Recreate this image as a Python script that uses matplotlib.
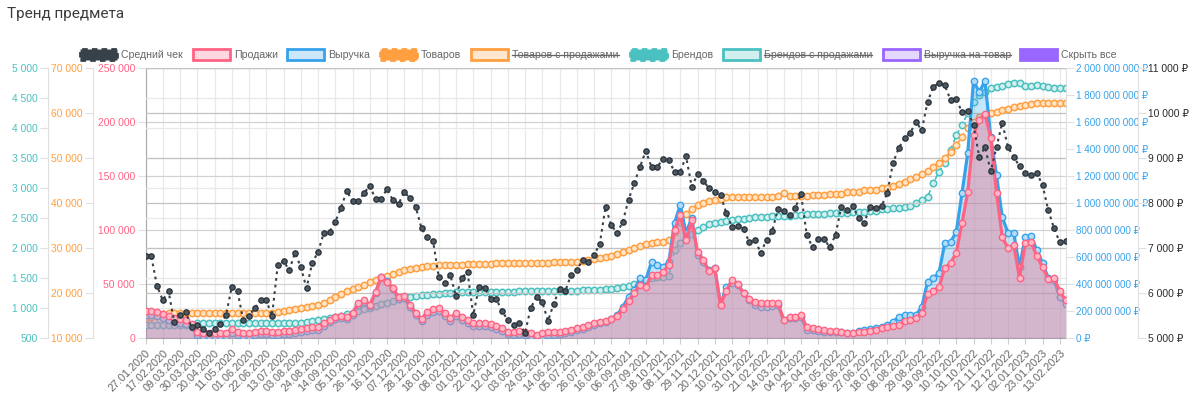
import numpy as np
import pandas as pd
import matplotlib
matplotlib.use('Agg')
import matplotlib.pyplot as plt
from matplotlib.ticker import FuncFormatter, MultipleLocator
from matplotlib.patches import Rectangle
from matplotlib.lines import Line2D
from matplotlib.colors import to_rgba

plt.rcParams['font.family'] = ['Liberation Sans', 'DejaVu Sans']

# weekly points, 27.01.2020 .. 20.02.2023
dates = pd.date_range('2020-01-27', periods=161, freq='7D')

avg_check = [6820, 6820, 6160, 5840, 6040, 5360, 5510, 5580, 5240, 5290,
             5200, 5110, 5200, 5310, 5510, 6130, 6040, 5400, 5490, 5670,
             5840, 5840, 5490, 6620, 6710, 6510, 6890, 6580, 6110, 6670,
             6910, 7330, 7360, 7580, 7890, 8270, 8040, 8040, 8220, 8380,
             8090, 8090, 8310, 8070, 7980, 8240, 8110, 7910, 7440, 7240,
             7160, 6360, 6220, 6400, 5930, 6330, 6470, 5510, 6130, 6110,
             5870, 5870, 5600, 5400, 5290, 5330, 5110, 5670, 5910, 5800,
             5380, 5760, 6090, 6040, 6400, 6510, 6730, 6690, 6840, 7090,
             7910, 7510, 7330, 7580, 8070, 8440, 8800, 9160, 8800, 8800,
             8980, 8960, 8690, 8690, 9040, 8360, 8640, 8490, 8330, 8240,
             8180, 7780, 7470, 7490, 7420, 7130, 7180, 6890, 7180, 7380,
             7870, 7820, 7730, 7890, 8200, 7290, 7020, 7200, 7200, 7020,
             7290, 7910, 7840, 7930, 7670, 7560, 7910, 7890, 7930, 8220,
             8890, 9220, 9440, 9560, 9800, 9620, 10240, 10580, 10670, 10620,
             10290, 10310, 10020, 10040, 9730, 9020, 9240, 8710, 9240, 9780,
             9240, 9020, 8820, 8670, 8620, 8670, 8400, 7840, 7440, 7130,
             7160]

sales = [25000, 25000, 24100, 22200, 20400, 18500, 17600, 16700, 13000, 5600,
         4600, 4600, 4600, 4600, 4600, 8300, 5600, 4600, 4600, 5600,
         6500, 6500, 5600, 5600, 6500, 6500, 7400, 8300, 9300, 10200,
         10200, 13900, 16700, 19400, 20400, 19400, 23100, 32400, 35200, 30600,
         42600, 56500, 51900, 46300, 38000, 38900, 30600, 23100, 17600, 24100,
         26900, 27800, 23100, 18500, 23100, 19400, 16700, 13900, 13900, 13900,
         13000, 11100, 9300, 5600, 5600, 6500, 5600, 4600, 2800, 4600,
         5600, 5600, 5600, 6500, 7400, 9300, 10200, 12000, 13900, 14800,
         15700, 17600, 20400, 26900, 34300, 41700, 49100, 47200, 58300, 58300,
         61100, 67600, 100000, 113900, 90700, 109300, 79600, 72200, 62000, 64800,
         30600, 43500, 53700, 50000, 41700, 36100, 33300, 32400, 32400, 32400,
         32400, 16700, 19400, 19400, 21300, 10200, 9300, 8300, 7400, 6500,
         6500, 5600, 4600, 4600, 5600, 5600, 6500, 7400, 9300, 10200,
         11100, 12000, 15700, 16700, 18500, 23100, 40700, 43500, 47200, 64800,
         69400, 78700, 106500, 135200, 188000, 201900, 207400, 185200, 134300, 93500,
         83300, 86100, 55600, 88000, 88900, 75900, 65700, 54600, 55600, 43500,
         35200]

# millions of rubles
revenue_mln = [170, 170, 163, 148, 133, 119, 111, 104, 81, 22,
               15, 15, 15, 15, 15, 37, 22, 15, 15, 22,
               30, 30, 22, 22, 30, 30, 37, 44, 52, 59,
               59, 89, 119, 141, 148, 141, 170, 244, 267, 237,
               333, 452, 422, 363, 289, 296, 230, 170, 126, 170,
               193, 200, 163, 126, 163, 133, 111, 89, 89, 89,
               81, 67, 52, 30, 22, 30, 22, 15, 7, 15,
               22, 22, 30, 37, 44, 59, 67, 81, 96, 111,
               119, 141, 170, 230, 304, 356, 444, 430, 563, 541,
               526, 563, 852, 985, 778, 889, 615, 563, 504, 519,
               244, 378, 407, 393, 333, 281, 244, 230, 230, 237,
               244, 133, 148, 148, 156, 59, 59, 52, 44, 44,
               44, 44, 37, 37, 52, 59, 67, 74, 81, 96,
               119, 156, 170, 170, 170, 230, 415, 444, 481, 704,
               711, 785, 1074, 1370, 1904, 1822, 1904, 1489, 1207, 896,
               778, 778, 526, 748, 756, 652, 556, 444, 430, 304,
               252]

goods = [14400, 14700, 14900, 15300, 15600, 15600, 15600, 15600, 15600, 15600,
         15600, 15600, 15600, 15600, 15600, 15600, 15600, 15600, 15600, 15600,
         15600, 15600, 15600, 15800, 16000, 16200, 16400, 16700, 16900, 17100,
         17300, 17800, 18400, 19100, 19800, 20400, 20900, 21300, 21800, 22400,
         22900, 23300, 23800, 24200, 24700, 25100, 25300, 25600, 25800, 26000,
         26000, 26200, 26200, 26200, 26200, 26200, 26400, 26400, 26400, 26400,
         26400, 26700, 26700, 26700, 26700, 26700, 26700, 26700, 26700, 26700,
         26700, 26900, 26900, 26900, 26900, 26900, 27100, 27300, 27600, 27800,
         28000, 28200, 28700, 29100, 29600, 30000, 30400, 30900, 31100, 31300,
         31300, 31800, 33600, 35800, 37600, 38700, 39600, 40000, 40400, 40700,
         40900, 41300, 41300, 41300, 41300, 41300, 41300, 41300, 41300, 41300,
         41600, 42200, 41600, 41600, 41600, 41600, 41800, 41800, 41800, 42000,
         42000, 42000, 42400, 42400, 42400, 42900, 42900, 42900, 43300, 43300,
         43800, 44200, 44700, 45300, 45800, 46400, 47100, 48000, 48900, 50000,
         51300, 52900, 54700, 56700, 58000, 59100, 59600, 60000, 60200, 60700,
         60900, 61300, 61600, 61800, 62000, 62200, 62200, 62200, 62200, 62200,
         62200]

brands = [720, 720, 720, 720, 720, 720, 720, 720, 720, 750,
          750, 750, 750, 750, 750, 750, 750, 750, 750, 750,
          750, 750, 750, 750, 750, 750, 750, 750, 770, 780,
          800, 820, 830, 850, 870, 900, 920, 950, 980, 1000,
          1030, 1070, 1080, 1120, 1150, 1180, 1180, 1200, 1220, 1220,
          1230, 1230, 1250, 1250, 1270, 1270, 1270, 1270, 1270, 1270,
          1270, 1270, 1270, 1270, 1270, 1280, 1280, 1280, 1280, 1280,
          1280, 1280, 1280, 1280, 1280, 1280, 1300, 1300, 1300, 1300,
          1320, 1320, 1330, 1350, 1370, 1400, 1430, 1470, 1500, 1520,
          1520, 1530, 1970, 2080, 2170, 2230, 2300, 2350, 2400, 2420,
          2430, 2450, 2470, 2480, 2480, 2500, 2520, 2520, 2520, 2530,
          2530, 2530, 2530, 2550, 2550, 2570, 2570, 2570, 2570, 2580,
          2580, 2580, 2580, 2600, 2600, 2600, 2620, 2620, 2650, 2650,
          2670, 2670, 2680, 2700, 2750, 2800, 2850, 3080, 3270, 3420,
          3630, 3880, 4050, 4250, 4430, 4550, 4600, 4670, 4680, 4700,
          4730, 4750, 4750, 4700, 4700, 4720, 4700, 4680, 4670, 4670,
          4670]

# colours
C_DARK = '#36414a'
C_PINK = '#ff6384'
C_BLUE = '#36a2eb'
C_ORANGE = '#ff9f40'
C_TEAL = '#4bc0c0'
C_PURPLE = '#9966ff'
AX_LINE = '#e0e0e0'
LBL = 7.4


def spaced(v, suffix=''):
    return f"{int(round(v)):,}".replace(',', ' ') + suffix


W, H = 1200, 395
fig = plt.figure(figsize=(W / 100, H / 100), dpi=100)
ax = fig.add_axes([145.5 / W, 1 - 338 / H, 920 / W, 270 / H])
x = np.arange(len(dates))
ax.set_xlim(0, len(dates) - 1)

# pink scale (main) - also x axis and vertical grid
ax.set_ylim(0, 250000)
ax.yaxis.set_major_locator(MultipleLocator(50000))
ax.yaxis.set_major_formatter(FuncFormatter(lambda v, p: spaced(v)))
ax.set_xticks(x[::3])
ax.set_xticklabels(dates[::3].strftime('%d.%m.%Y'), rotation=45, ha='right',
                   rotation_mode='anchor', fontsize=7.8, color='#666666')
ax.tick_params(axis='x', length=4, color='#cccccc', pad=3)
ax.tick_params(axis='y', length=6, color=AX_LINE, labelcolor=C_PINK, labelsize=LBL, pad=1.5)
ax.grid(axis='x', color='#e9e9e9', lw=0.9)
ax.grid(axis='y', color='#d2d2d2', lw=0.9)
ax.set_axisbelow(True)
for s in ['top', 'right']:
    ax.spines[s].set_visible(False)
ax.spines['left'].set_color('#a8a8a8')
ax.spines['bottom'].set_color('#a8a8a8')


def left_twin(offset_pts):
    t = ax.twinx()
    t.yaxis.tick_left()
    t.yaxis.set_label_position('left')
    for s in ['right', 'top', 'bottom']:
        t.spines[s].set_visible(False)
    t.spines['left'].set_visible(True)
    t.spines['left'].set_position(('outward', offset_pts))
    t.spines['left'].set_color(AX_LINE)
    return t


# brands (teal) axis, outermost left
ax_b = left_twin(70.2)
ax_b.set_ylim(500, 5000)
ax_b.yaxis.set_major_locator(MultipleLocator(500))
ax_b.yaxis.set_major_formatter(FuncFormatter(lambda v, p: spaced(v)))
ax_b.tick_params(axis='y', length=6, color=AX_LINE, labelcolor=C_TEAL, labelsize=LBL, pad=1.5)
ax_b.grid(axis='y', color='#e8e8e8', lw=0.9)
ax_b.plot(x, brands, color=C_TEAL, lw=1.2, ls=(0, (3, 2)), marker='o', ms=4.6,
          mfc='#d6f0f0', mec=C_TEAL, mew=1.1)

# goods (orange) axis
ax_g = left_twin(37.8)
ax_g.set_ylim(10000, 70000)
ax_g.yaxis.set_major_locator(MultipleLocator(10000))
ax_g.yaxis.set_major_formatter(FuncFormatter(lambda v, p: spaced(v)))
ax_g.tick_params(axis='y', length=6, color=AX_LINE, labelcolor=C_ORANGE, labelsize=LBL, pad=1.5)
ax_g.grid(axis='y', color='#c2c2c2', lw=0.9)
ax_g.plot(x, goods, color=C_ORANGE, lw=1.2, ls=(0, (3, 2)), marker='o', ms=4.6,
          mfc='#ffe4c8', mec=C_ORANGE, mew=1.1)

# revenue (blue) axis on the right
ax_r = ax.twinx()
for s in ['left', 'top', 'bottom']:
    ax_r.spines[s].set_visible(False)
ax_r.spines['right'].set_color(AX_LINE)
ax_r.set_ylim(0, 2000)
ax_r.yaxis.set_major_locator(MultipleLocator(200))
ax_r.yaxis.set_major_formatter(FuncFormatter(lambda v, p: spaced(v * 1e6, ' ₽')))
ax_r.tick_params(axis='y', length=6, color=AX_LINE, labelcolor=C_BLUE, labelsize=7.1, pad=1.5)
ax_r.fill_between(x, 0, revenue_mln, color=C_BLUE, alpha=0.28, lw=0)
ax_r.plot(x, revenue_mln, color=C_BLUE, lw=2.3, marker='o', ms=4.6,
          mfc='#b5dcf7', mec=C_BLUE, mew=1.0)

# sales line on top of revenue
ax_s = ax.twinx()
ax_s.set_ylim(0, 250000)
ax_s.set_yticks([])
for s in ax_s.spines.values():
    s.set_visible(False)
ax_s.fill_between(x, 0, sales, color='#e189a1', alpha=0.5, lw=0)
ax_s.plot(x, sales, color=C_PINK, lw=2.3, marker='o', ms=4.6,
          mfc='#ffb8c6', mec=C_PINK, mew=1.0)

# average check (dark) axis, outer right
ax_c = ax.twinx()
for s in ['left', 'top', 'bottom']:
    ax_c.spines[s].set_visible(False)
ax_c.spines['right'].set_position(('outward', 52))
ax_c.spines['right'].set_color(AX_LINE)
ax_c.set_ylim(5000, 11000)
ax_c.yaxis.set_major_locator(MultipleLocator(1000))
ax_c.yaxis.set_major_formatter(FuncFormatter(lambda v, p: spaced(v, ' ₽')))
ax_c.tick_params(axis='y', length=6, color=AX_LINE, labelcolor='#2b2b2b', labelsize=LBL, pad=1.5)
ax_c.plot(x, avg_check, color=C_DARK, lw=1.5, ls=(0, (1.3, 1.9)), marker='o', ms=3.8,
          mfc='#4e5962', mec='#2c353d', mew=1.0)

# title
fig.text(7 / W, 1 - 18 / H, 'Тренд предмета', fontsize=11, color='#3c3c3c',
         family=['Roboto', 'DejaVu Sans'], va='baseline', ha='left')

# legend drawn by hand (chart.js style boxes)
legend_items = [
    ('Средний чек', C_DARK, 'dash', False, 80),
    ('Продажи', C_PINK, 'outline', False, 193),
    ('Выручка', C_BLUE, 'outline', False, 287),
    ('Товаров', C_ORANGE, 'dash', False, 380),
    ('Товаров с продажами', C_ORANGE, 'outline', True, 471),
    ('Брендов', C_TEAL, 'dash', False, 630),
    ('Брендов с продажами', C_TEAL, 'outline', True, 723),
    ('Выручка на товар', C_PURPLE, 'outline', True, 883),
    ('Скрыть все', C_PURPLE, 'solid', False, 1020),
]
box_w, box_h, ly = 37, 10, 54.5
texts = []
for label, col, kind, hidden, bx in legend_items:
    x0, y0 = bx / W, 1 - (ly + box_h / 2) / H
    if kind == 'dash':
        r = Rectangle((x0, y0), box_w / W, box_h / H, transform=fig.transFigure,
                      facecolor=col, edgecolor=col, lw=2, ls=(0, (2, 1.5)))
    elif kind == 'outline':
        r = Rectangle((x0, y0), box_w / W, box_h / H, transform=fig.transFigure,
                      facecolor=to_rgba(col, 0.25), edgecolor=col, lw=2)
    else:
        r = Rectangle((x0, y0), box_w / W, box_h / H, transform=fig.transFigure,
                      facecolor=col, edgecolor=col, lw=2)
    fig.add_artist(r)
    t = fig.text((bx + box_w + 4) / W, 1 - ly / H, label, fontsize=7.6, color='#666666',
                 va='center', ha='left')
    texts.append((t, hidden))

fig.canvas.draw()
rend = fig.canvas.get_renderer()
for t, hidden in texts:
    if hidden:
        bb = t.get_window_extent(rend)
        ym = (bb.y0 + bb.height * 0.45) / H
        fig.add_artist(Line2D([bb.x0 / W, bb.x1 / W], [ym, ym], transform=fig.transFigure,
                              color='#666666', lw=0.9))

fig.savefig('out.png', dpi=100)
